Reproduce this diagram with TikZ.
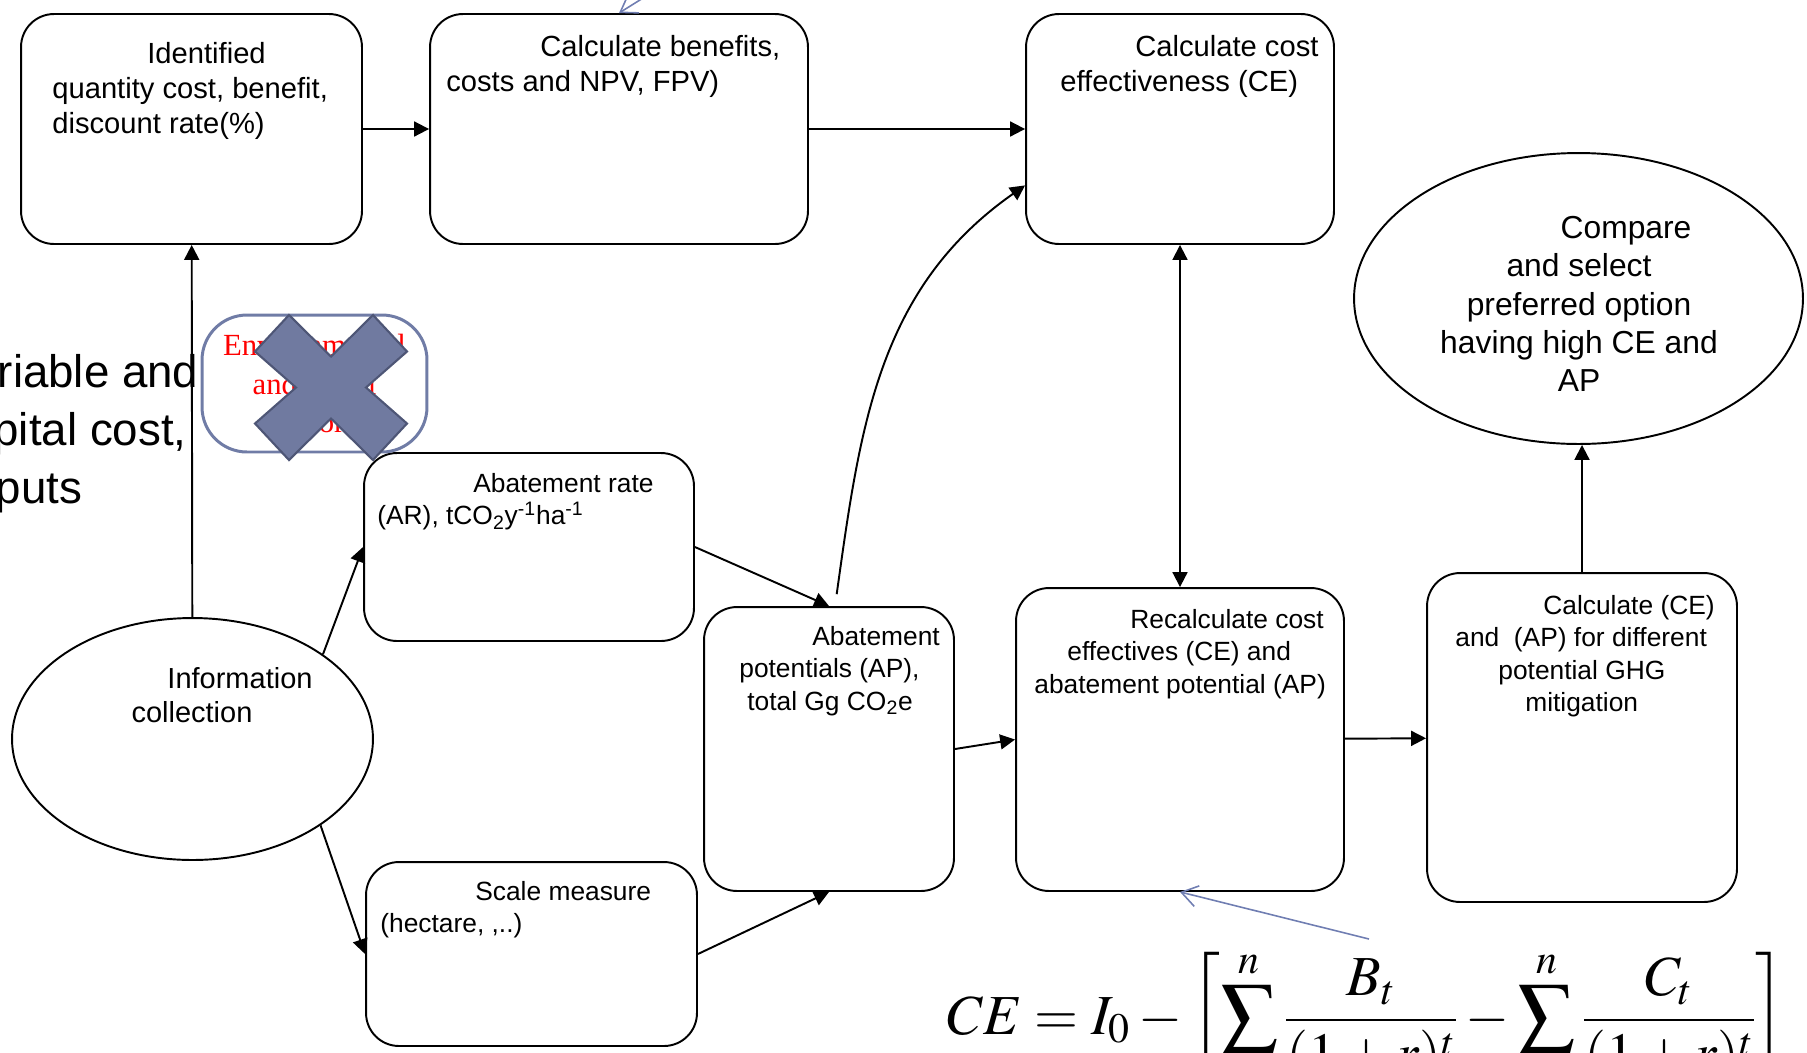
\documentclass[tikz,border=0pt]{standalone}
\usepackage{xcolor}
\usepackage{mathptmx}
\usepackage[no-math]{fontspec}
\setmainfont{Liberation Sans}
\newfontfamily\timesfam{Liberation Serif}
\usepackage{tikz}
\usetikzlibrary{arrows.meta,positioning,calc,shapes.geometric}
\definecolor{notecol}{RGB}{112,126,178}
\definecolor{envframe}{RGB}{112,124,166}
\definecolor{crossfill}{RGB}{112,122,160}
\definecolor{crossedge}{RGB}{78,86,118}

\begin{document}
\begin{tikzpicture}[
  x=0.02cm, y=-0.02cm,
  box/.style={rectangle, draw, line width=1.1pt, rounded corners=0.66cm},
  oval/.style={ellipse, draw, line width=1.1pt, inner sep=0pt},
  txt/.style={anchor=north west, inner sep=0pt, align=left},
  toptxt/.style={txt, font=\fontsize{16.6}{20}\selectfont},
  lowtxt/.style={txt, font=\fontsize{15}{18.4}\selectfont},
  flow/.style={-{Triangle[length=8.5pt,width=8.5pt]}, line width=1.1pt},
  dflow/.style={{Triangle[length=8.5pt,width=8.5pt]}-{Triangle[length=8.5pt,width=8.5pt]}, line width=1.1pt},
  note/.style={-{Straight Barb[length=9pt,width=12pt]}, draw=notecol, line width=0.9pt},
  crossmark/.style={fill=crossfill, draw=crossedge, line width=1.2pt, line join=miter}
]
\useasboundingbox (0,0) rectangle (1807,1052);

% Top row
\node[box, minimum width=6.82cm, minimum height=4.6cm] (idq) at (191.5,129) {};
\node[box, minimum width=7.56cm, minimum height=4.6cm] (npv) at (619,129) {};
\node[box, minimum width=6.16cm, minimum height=4.6cm] (ce) at (1180,129) {};
\node[oval, minimum width=8.98cm, minimum height=5.82cm] (cmp) at (1578.5,298.5) {};

\node[toptxt] (idq-t) at (52,42) {\hspace*{1.9cm}Identified\\quantity cost, benefit,\\discount rate(\%)};
\node[toptxt] (npv-t) at (446,35) {\hspace*{1.88cm}Calculate benefits,\\costs and NPV, FPV)};
\node[toptxt] (ce-t) at (1060,35) {\hspace*{1.5cm}Calculate cost\\effectiveness (CE)};
\node[anchor=north, inner sep=0pt, align=center, font=\fontsize{18.1}{21.8}\selectfont]
  (cmp-t) at (1579,216) {\hspace*{1.88cm}Compare\\and select\\preferred option\\having high CE and\\AP};

% Left column
\node[txt, font=\fontsize{26}{33}\selectfont] (var-t) at (-55,354) {Variable and\\capital cost,\\\hspace*{0.3cm}inputs};
\node[oval, minimum width=7.22cm, minimum height=4.84cm] (info) at (192.5,739) {};
\node[anchor=north, inner sep=0pt, align=center, font=\fontsize{16.5}{19.7}\selectfont]
  (info-t) at (192,667) {\hspace*{1.92cm}Information\\collection};

% Middle boxes
\node[box, minimum width=6.6cm, minimum height=3.76cm] (ar) at (529,547) {};
\node[box, minimum width=6.62cm, minimum height=3.68cm] (scl) at (531.5,954) {};
\node[box, minimum width=5.0cm, minimum height=5.68cm] (ap) at (829,749) {};
\node[box, minimum width=6.56cm, minimum height=6.06cm] (rce) at (1180,739.5) {};
\node[box, minimum width=6.2cm, minimum height=6.58cm] (cap) at (1582,737.5) {};

\node[lowtxt] (ar-t) at (377,473) {\hspace*{1.92cm}Abatement rate\\(AR), tCO\textsubscript{2}y\textsuperscript{-1}ha\textsuperscript{-1}};
\node[lowtxt] (scl-t) at (380,881) {\hspace*{1.9cm}Scale measure\\(hectare, ,..)};
\node[lowtxt] (ap-t) at (739,626) {\hspace*{1.46cm}Abatement\\potentials (AP),\\\hspace*{0.16cm}total Gg CO\textsubscript{2}e};
\node[lowtxt] (rce-t) at (1034,609) {\hspace*{1.92cm}Recalculate cost\\\hspace*{0.66cm}effectives (CE) and\\abatement potential (AP)};
\node[lowtxt] (cap-t) at (1455,595) {\hspace*{1.76cm}Calculate (CE)\\and\ \ (AP) for different\\\hspace*{0.86cm}potential GHG\\\hspace*{1.4cm}mitigation};

% Struck-out box
\node[draw=envframe, line width=1.7pt, rounded corners=0.9cm, minimum width=4.5cm, minimum height=2.74cm]
  (env) at (314.5,383.5) {};
\node[align=center, text=red, inner sep=0pt, font=\timesfam\fontsize{17.5}{22}\selectfont]
  (env-t) at (env.center) {Environmental\\and social\\factors};

% Connectors
\draw[flow] (idq) -- (npv);
\draw[flow] (npv) -- (ce);
\draw[flow] (info) -- (idq);
\draw[flow] (info.33) -- (ar.west);
\draw[flow] (info.-34) -- (scl.west);
\draw[flow] (ar.east) -- (ap.north);
\draw[flow] (scl.east) -- (ap.south);
\draw[flow, shorten <=0.24cm] ([xshift=0.12cm]ap.north) to[out=82, in=215] (ce.200);
\draw[flow] (ap.east) -- (rce.west);
\draw[dflow] (ce) -- (rce);
\draw[flow] (rce) -- (cap);
\draw[flow] (cap) -- (cap |- cmp.south);

% Cross over the struck-out box
\begin{scope}[shift={(331,387.5)}]
  \draw[crossmark] (-76,-36) -- (-42,-72.5) -- (0,-31) -- (42,-72.5) -- (76,-36) -- (35,0)
    -- (76,36) -- (42,72.5) -- (0,31) -- (-42,72.5) -- (-76,36) -- (-35,0) -- cycle;
\end{scope}

% Formula and pointers
\node[anchor=base west, inner sep=0pt, font=\fontsize{32.2}{40}\selectfont] (fml) at (947,1034)
  {$\displaystyle CE = I_0 - \left[\sum^{n}\frac{B_t}{(1+r)^t} - \sum^{n}\frac{C_t}{(1+r)^t}\right]$};
\coordinate (fmlnote) at (1369,939);
\draw[note] (fmlnote) -- (rce.south);
\coordinate (topnote) at (680,-25);
\draw[note] (topnote) -- (npv.north);
\end{tikzpicture}
\end{document}
